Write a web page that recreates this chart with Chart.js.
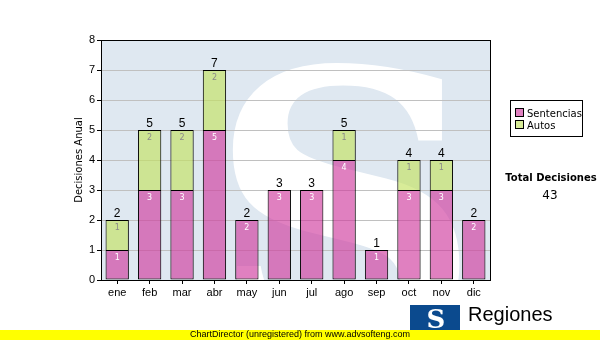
<!DOCTYPE html>
<html>
<head>
<meta charset="utf-8">
<script src="https://cdn.jsdelivr.net/npm/chart.js@4"></script>
<style>
  html, body { margin: 0; padding: 0; background: #fff; }
  #wrap { position: relative; width: 600px; height: 340px; }
</style>
</head>
<body>
<div id="wrap"><canvas id="chart" width="600" height="340"></canvas></div>
<script>
// datos mensuales
const meses = ['ene', 'feb', 'mar', 'abr', 'may', 'jun', 'jul', 'ago', 'sep', 'oct', 'nov', 'dic'];
const sentencias = [1, 3, 3, 5, 2, 3, 3, 4, 1, 3, 3, 2];
const autos = [1, 2, 2, 2, 0, 0, 0, 1, 0, 1, 1, 0];
const yTicks = [0, 1, 2, 3, 4, 5, 6, 7, 8];

const totales = meses.map((m, i) => sentencias[i] + autos[i]);
const totalDecisiones = totales.reduce((a, b) => a + b, 0);

const colorSent = 'rgba(208,60,158,0.65)';
const colorAutos = 'rgba(195,226,97,0.65)';

// fondo con la "S" del logo, bordes, etiquetas, leyenda y pie
const extras = {
    id: 'extras',
    beforeDatasetsDraw(chart) {
        const { ctx, chartArea: a } = chart;
        ctx.save();
        ctx.beginPath();
        ctx.rect(a.left, a.top, a.right - a.left, a.bottom - a.top);
        ctx.clip();
        ctx.fillStyle = '#dfe8f1';
        ctx.fillRect(a.left, a.top, a.right - a.left, a.bottom - a.top);
        ctx.fillStyle = '#ffffff';
        ctx.font = 'bold 380px "DejaVu Serif"';
        ctx.textAlign = 'center';
        ctx.textBaseline = 'alphabetic';
        ctx.fillText('S', 345, 345);
        ctx.restore();
        // lineas de grilla
        const y = chart.scales.y;
        ctx.save();
        ctx.strokeStyle = '#c0c0c0';
        ctx.lineWidth = 1;
        yTicks.slice(1, -1).forEach(v => {
            const py = Math.round(y.getPixelForValue(v)) + 0.5;
            ctx.beginPath();
            ctx.moveTo(a.left, py);
            ctx.lineTo(a.right, py);
            ctx.stroke();
        });
        ctx.restore();
    },
    afterDatasetsDraw(chart) {
        const { ctx, chartArea: a } = chart;
        ctx.save();
        ctx.strokeStyle = '#000';
        ctx.lineWidth = 1;
        ctx.strokeRect(Math.round(a.left) + 0.5, Math.round(a.top) + 0.5,
            Math.round(a.right - a.left), Math.round(a.bottom - a.top));

        const m0 = chart.getDatasetMeta(0);
        const m1 = chart.getDatasetMeta(1);
        ctx.textAlign = 'center';
        ctx.textBaseline = 'middle';
        ctx.font = '8px "DejaVu Sans"';
        m0.data.forEach((bar, i) => {
            if (!sentencias[i]) return;
            ctx.fillStyle = '#ffffff';
            ctx.fillText(sentencias[i], bar.x, bar.y + 8);
        });
        m1.data.forEach((bar, i) => {
            if (!autos[i]) return;
            ctx.fillStyle = '#8a8a8a';
            ctx.fillText(autos[i], bar.x, bar.y + 8);
        });
        ctx.font = '12px "Liberation Sans"';
        ctx.fillStyle = '#000';
        ctx.textBaseline = 'alphabetic';
        m0.data.forEach((bar, i) => {
            const py = chart.scales.y.getPixelForValue(totales[i]);
            ctx.fillText(totales[i], bar.x, py - 3);
        });

        // leyenda
        ctx.strokeStyle = '#000';
        ctx.strokeRect(510.5, 100.5, 72, 36);
        ctx.textAlign = 'left';
        ctx.textBaseline = 'middle';
        ctx.font = '10px "DejaVu Sans"';
        [['Sentencias', '#e080c0', 113], ['Autos', '#d8ec98', 125]].forEach(([t, c, py]) => {
            ctx.fillStyle = c;
            ctx.fillRect(515.5, py - 4.5, 8, 8);
            ctx.strokeRect(515.5, py - 4.5, 8, 8);
            ctx.fillStyle = '#000';
            ctx.fillText(t, 527, py + 1);
        });

        ctx.textAlign = 'center';
        ctx.font = 'bold 10px "DejaVu Sans"';
        ctx.fillText('Total Decisiones', 551, 178);
        ctx.font = '12px "DejaVu Sans"';
        ctx.fillText(String(totalDecisiones), 550, 196);

        // logo Regiones
        ctx.fillStyle = '#0b4a8e';
        ctx.fillRect(410, 305, 50, 25);
        ctx.fillStyle = '#fff';
        ctx.font = 'bold 26px "DejaVu Serif"';
        ctx.fillText('S', 436, 321);
        ctx.fillStyle = '#000';
        ctx.textAlign = 'left';
        ctx.font = '20px "Liberation Sans"';
        ctx.fillText('Regiones', 468, 315);

        // pie
        ctx.fillStyle = '#ffff00';
        ctx.fillRect(0, 330, 600, 10);
        ctx.fillStyle = '#000';
        ctx.font = '9px "Liberation Sans"';
        ctx.fillText('ChartDirector (unregistered) from www.advsofteng.com', 190, 335);
        ctx.restore();
    }
};

new Chart(document.getElementById('chart'), {
    type: 'bar',
    data: {
        labels: meses,
        datasets: [
            {
                label: 'Sentencias',
                data: sentencias,
                backgroundColor: colorSent,
                borderColor: '#000',
                borderWidth: 1,
                borderSkipped: false
            },
            {
                label: 'Autos',
                data: autos,
                backgroundColor: colorAutos,
                borderColor: '#000',
                borderWidth: 1,
                borderSkipped: 'bottom'
            }
        ]
    },
    options: {
        responsive: false,
        animation: false,
        layout: { padding: { left: 73, right: 110, top: 40, bottom: 0 } },
        plugins: { legend: { display: false }, tooltip: { enabled: false } },
        datasets: { bar: { categoryPercentage: 0.72, barPercentage: 1 } },
        scales: {
            x: {
                stacked: true,
                afterFit: s => { s.height = 60; },
                grid: { offset: false, drawOnChartArea: false, tickLength: 4, color: '#000' },
                border: { color: '#000' },
                ticks: { color: '#000', font: { family: 'Liberation Sans', size: 11 }, padding: 2 }
            },
            y: {
                stacked: true,
                min: 0,
                max: 8,
                afterFit: s => { s.width = 28; },
                afterBuildTicks: s => { s.ticks = yTicks.map(v => ({ value: v })); },
                grid: { drawOnChartArea: false, tickLength: 4, color: '#000' },
                border: { color: '#000' },
                ticks: { color: '#000', font: { family: 'Liberation Sans', size: 11 }, padding: 2 },
                title: {
                    display: true,
                    text: 'Decisiones Anual',
                    color: '#000',
                    font: { family: 'DejaVu Sans', size: 10 },
                    padding: 0
                }
            }
        }
    },
    plugins: [extras]
});
</script>
</body>
</html>
